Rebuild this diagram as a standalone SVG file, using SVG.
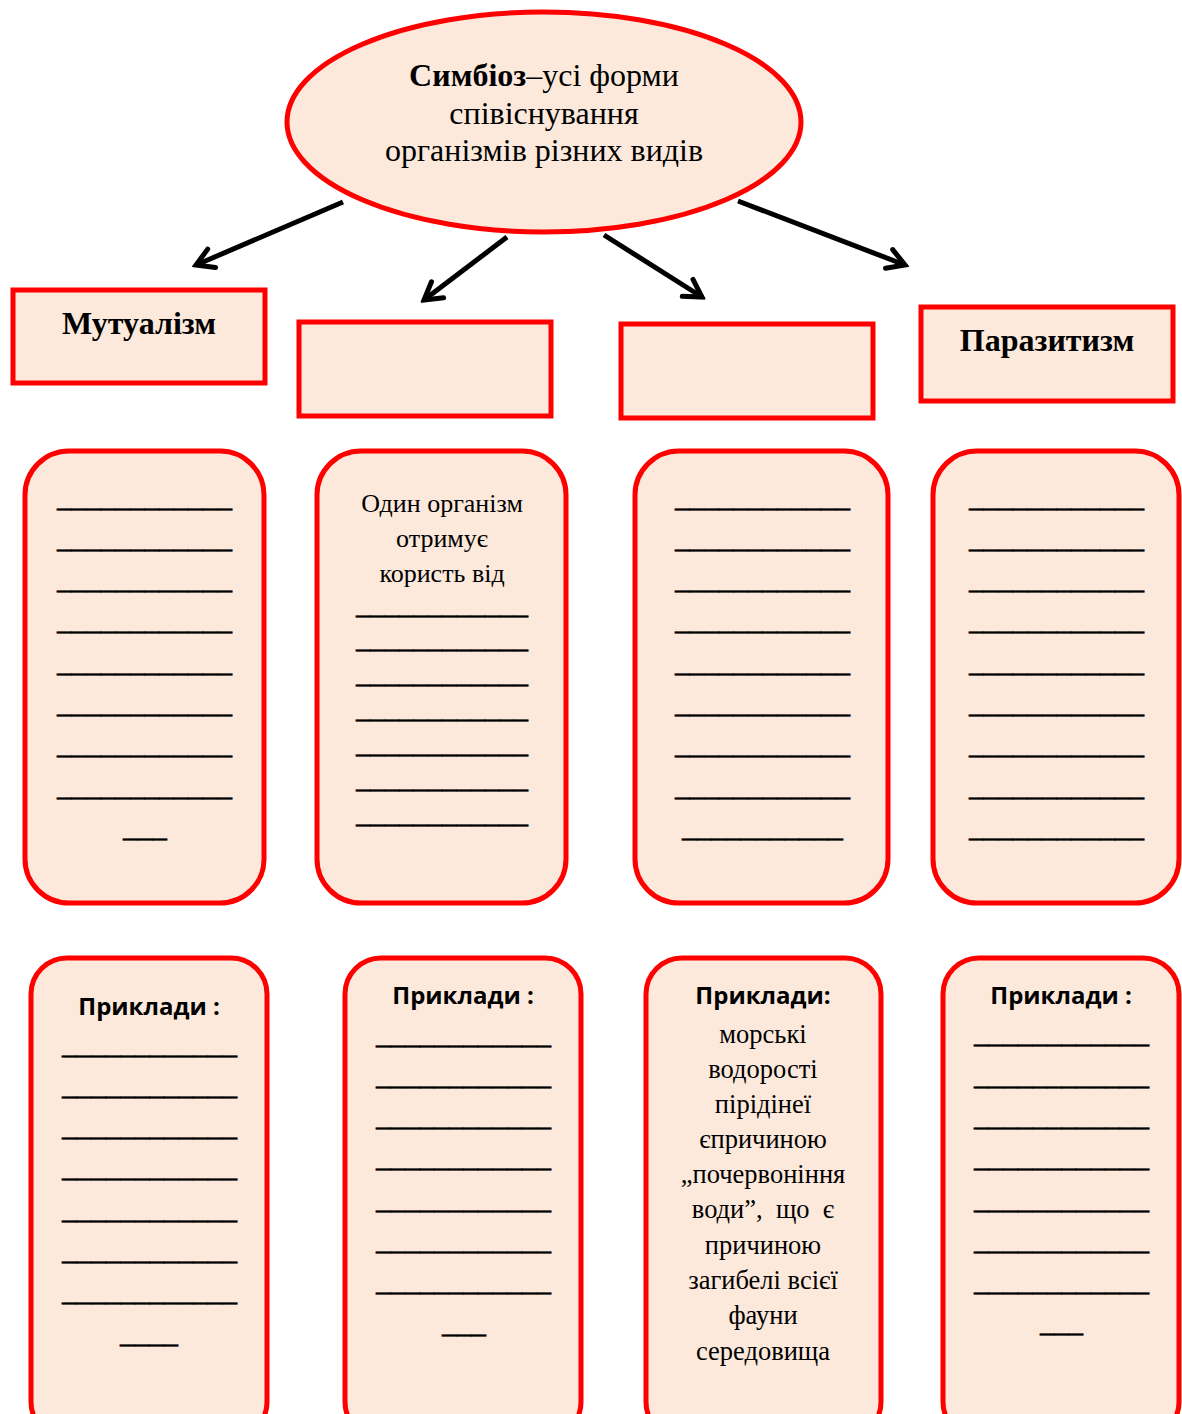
<svg xmlns="http://www.w3.org/2000/svg" width="1182" height="1414" viewBox="0 0 1182 1414">
<style>
.node{fill:#FCE9DB;stroke:#FF0000;stroke-width:5}
.t{font-family:"Liberation Serif","Times New Roman",serif;fill:#000;text-anchor:middle}
.b{font-weight:bold}
.u{font-family:"Liberation Serif","Times New Roman",serif;font-size:30px;fill:#000;stroke:#000;stroke-width:0.5}
.ex{font-family:"Open Sans","Liberation Sans",Arial,sans-serif;font-weight:bold;font-size:24px;text-anchor:middle;fill:#000}
.con{stroke:#000;stroke-width:5;fill:none}
</style>
<defs>
<marker id="ah" markerUnits="userSpaceOnUse" markerWidth="30" markerHeight="30" viewBox="0 0 30 30" refX="26" refY="15" orient="auto">
<path d="M9,5 L26,15 L9,25" fill="none" stroke="#000" stroke-width="5" stroke-linecap="round" stroke-linejoin="miter"/>
</marker>
</defs>
<rect width="1182" height="1414" fill="#fff"/>
<g id="connectors">
<line class="con" x1="343" y1="202" x2="196" y2="265" marker-end="url(#ah)"/>
<line class="con" x1="507" y1="237" x2="424" y2="300" marker-end="url(#ah)"/>
<line class="con" x1="604" y1="235" x2="702" y2="297" marker-end="url(#ah)"/>
<line class="con" x1="738" y1="201" x2="905" y2="265" marker-end="url(#ah)"/>
</g>
<g id="symbiosis">
<ellipse class="node" cx="544" cy="122" rx="257" ry="110"/>
<text class="t" x="544" y="86" font-size="32"><tspan class="b">Симбіоз</tspan>–усі форми</text>
<text class="t" x="544" y="124" font-size="32">співіснування</text>
<text class="t" x="544" y="161" font-size="32">організмів різних видів</text>
</g>
<g id="mutualism">
<rect class="node" x="13" y="290" width="252" height="93"/>
<text class="t b" x="139" y="334" font-size="32">Мутуалізм</text>
</g>
<g id="type2">
<rect class="node" x="299" y="322" width="252" height="94"/>
</g>
<g id="type3">
<rect class="node" x="621" y="324" width="252" height="94"/>
</g>
<g id="parasitism">
<rect class="node" x="921" y="307" width="252" height="94"/>
<text class="t b" x="1047" y="351" font-size="32">Паразитизм</text>
</g>
<g id="desc1">
<rect class="node" x="25" y="451" width="239" height="452" rx="44"/>
<text class="u" x="57" y="507" textLength="175" lengthAdjust="spacingAndGlyphs">____________</text>
<text class="u" x="57" y="548" textLength="175" lengthAdjust="spacingAndGlyphs">____________</text>
<text class="u" x="57" y="589" textLength="175" lengthAdjust="spacingAndGlyphs">____________</text>
<text class="u" x="57" y="630" textLength="175" lengthAdjust="spacingAndGlyphs">____________</text>
<text class="u" x="57" y="672" textLength="175" lengthAdjust="spacingAndGlyphs">____________</text>
<text class="u" x="57" y="713" textLength="175" lengthAdjust="spacingAndGlyphs">____________</text>
<text class="u" x="57" y="754" textLength="175" lengthAdjust="spacingAndGlyphs">____________</text>
<text class="u" x="57" y="796" textLength="175" lengthAdjust="spacingAndGlyphs">____________</text>
<text class="u" x="123" y="837" textLength="44" lengthAdjust="spacingAndGlyphs">___</text>
</g>
<g id="desc2">
<rect class="node" x="317" y="451" width="249" height="452" rx="44"/>
<text class="t" x="442" y="512" font-size="26">Один організм</text>
<text class="t" x="442" y="547" font-size="26">отримує</text>
<text class="t" x="442" y="582" font-size="26">користь від</text>
<text class="u" x="356" y="614" textLength="172" lengthAdjust="spacingAndGlyphs">____________</text>
<text class="u" x="356" y="648" textLength="172" lengthAdjust="spacingAndGlyphs">____________</text>
<text class="u" x="356" y="683" textLength="172" lengthAdjust="spacingAndGlyphs">____________</text>
<text class="u" x="356" y="718" textLength="172" lengthAdjust="spacingAndGlyphs">____________</text>
<text class="u" x="356" y="753" textLength="172" lengthAdjust="spacingAndGlyphs">____________</text>
<text class="u" x="356" y="788" textLength="172" lengthAdjust="spacingAndGlyphs">____________</text>
<text class="u" x="356" y="823" textLength="172" lengthAdjust="spacingAndGlyphs">____________</text>
</g>
<g id="desc3">
<rect class="node" x="635" y="451" width="253" height="452" rx="44"/>
<text class="u" x="675" y="507" textLength="175" lengthAdjust="spacingAndGlyphs">____________</text>
<text class="u" x="675" y="548" textLength="175" lengthAdjust="spacingAndGlyphs">____________</text>
<text class="u" x="675" y="589" textLength="175" lengthAdjust="spacingAndGlyphs">____________</text>
<text class="u" x="675" y="630" textLength="175" lengthAdjust="spacingAndGlyphs">____________</text>
<text class="u" x="675" y="672" textLength="175" lengthAdjust="spacingAndGlyphs">____________</text>
<text class="u" x="675" y="713" textLength="175" lengthAdjust="spacingAndGlyphs">____________</text>
<text class="u" x="675" y="754" textLength="175" lengthAdjust="spacingAndGlyphs">____________</text>
<text class="u" x="675" y="796" textLength="175" lengthAdjust="spacingAndGlyphs">____________</text>
<text class="u" x="682" y="837" textLength="161" lengthAdjust="spacingAndGlyphs">___________</text>
</g>
<g id="desc4">
<rect class="node" x="933" y="451" width="246" height="452" rx="44"/>
<text class="u" x="969" y="507" textLength="175" lengthAdjust="spacingAndGlyphs">____________</text>
<text class="u" x="969" y="548" textLength="175" lengthAdjust="spacingAndGlyphs">____________</text>
<text class="u" x="969" y="589" textLength="175" lengthAdjust="spacingAndGlyphs">____________</text>
<text class="u" x="969" y="630" textLength="175" lengthAdjust="spacingAndGlyphs">____________</text>
<text class="u" x="969" y="672" textLength="175" lengthAdjust="spacingAndGlyphs">____________</text>
<text class="u" x="969" y="713" textLength="175" lengthAdjust="spacingAndGlyphs">____________</text>
<text class="u" x="969" y="754" textLength="175" lengthAdjust="spacingAndGlyphs">____________</text>
<text class="u" x="969" y="796" textLength="175" lengthAdjust="spacingAndGlyphs">____________</text>
<text class="u" x="969" y="837" textLength="175" lengthAdjust="spacingAndGlyphs">____________</text>
</g>
<g id="examples1">
<rect class="node" x="31" y="958" width="236" height="480" rx="36"/>
<text class="ex" x="149" y="1015">Приклади :</text>
<text class="u" x="62" y="1054" textLength="175" lengthAdjust="spacingAndGlyphs">____________</text>
<text class="u" x="62" y="1095" textLength="175" lengthAdjust="spacingAndGlyphs">____________</text>
<text class="u" x="62" y="1136" textLength="175" lengthAdjust="spacingAndGlyphs">____________</text>
<text class="u" x="62" y="1177" textLength="175" lengthAdjust="spacingAndGlyphs">____________</text>
<text class="u" x="62" y="1219" textLength="175" lengthAdjust="spacingAndGlyphs">____________</text>
<text class="u" x="62" y="1260" textLength="175" lengthAdjust="spacingAndGlyphs">____________</text>
<text class="u" x="62" y="1301" textLength="175" lengthAdjust="spacingAndGlyphs">____________</text>
<text class="u" x="120" y="1343" textLength="58" lengthAdjust="spacingAndGlyphs">____</text>
</g>
<g id="examples2">
<rect class="node" x="345" y="958" width="236" height="480" rx="36"/>
<text class="ex" x="463" y="1004">Приклади :</text>
<text class="u" x="376" y="1044" textLength="175" lengthAdjust="spacingAndGlyphs">____________</text>
<text class="u" x="376" y="1085" textLength="175" lengthAdjust="spacingAndGlyphs">____________</text>
<text class="u" x="376" y="1126" textLength="175" lengthAdjust="spacingAndGlyphs">____________</text>
<text class="u" x="376" y="1167" textLength="175" lengthAdjust="spacingAndGlyphs">____________</text>
<text class="u" x="376" y="1209" textLength="175" lengthAdjust="spacingAndGlyphs">____________</text>
<text class="u" x="376" y="1250" textLength="175" lengthAdjust="spacingAndGlyphs">____________</text>
<text class="u" x="376" y="1291" textLength="175" lengthAdjust="spacingAndGlyphs">____________</text>
<text class="u" x="442" y="1333" textLength="44" lengthAdjust="spacingAndGlyphs">___</text>
</g>
<g id="examples3">
<rect class="node" x="646" y="958" width="235" height="480" rx="36"/>
<text class="ex" x="763" y="1004">Приклади:</text>
<text class="t" x="763" y="1043" font-size="26.5">морські</text>
<text class="t" x="763" y="1078" font-size="26.5">водорості</text>
<text class="t" x="763" y="1113" font-size="26.5">пірідінеї</text>
<text class="t" x="763" y="1148" font-size="26.5">єпричиною</text>
<text class="t" x="763" y="1183" font-size="26.5">„почервоніння</text>
<text class="t" x="763" y="1218" font-size="26.5" xml:space="preserve">води”,  що  є</text>
<text class="t" x="763" y="1254" font-size="26.5">причиною</text>
<text class="t" x="763" y="1289" font-size="26.5">загибелі всієї</text>
<text class="t" x="763" y="1324" font-size="26.5">фауни</text>
<text class="t" x="763" y="1360" font-size="26.5">середовища</text>
</g>
<g id="examples4">
<rect class="node" x="943" y="958" width="236" height="480" rx="36"/>
<text class="ex" x="1061" y="1004">Приклади :</text>
<text class="u" x="974" y="1043" textLength="175" lengthAdjust="spacingAndGlyphs">____________</text>
<text class="u" x="974" y="1085" textLength="175" lengthAdjust="spacingAndGlyphs">____________</text>
<text class="u" x="974" y="1126" textLength="175" lengthAdjust="spacingAndGlyphs">____________</text>
<text class="u" x="974" y="1167" textLength="175" lengthAdjust="spacingAndGlyphs">____________</text>
<text class="u" x="974" y="1209" textLength="175" lengthAdjust="spacingAndGlyphs">____________</text>
<text class="u" x="974" y="1250" textLength="175" lengthAdjust="spacingAndGlyphs">____________</text>
<text class="u" x="974" y="1291" textLength="175" lengthAdjust="spacingAndGlyphs">____________</text>
<text class="u" x="1040" y="1332" textLength="43" lengthAdjust="spacingAndGlyphs">___</text>
</g>
</svg>
